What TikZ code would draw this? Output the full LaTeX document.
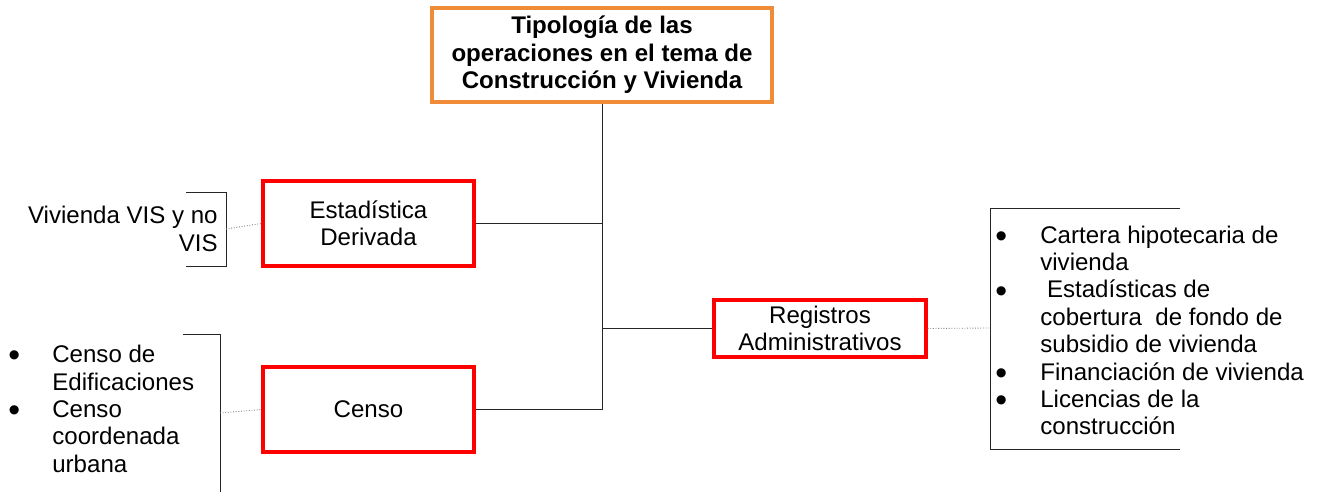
\documentclass[tikz,border=0pt]{standalone}
\usepackage{fontspec}
\setmainfont{Liberation Sans}
\usetikzlibrary{positioning}
\definecolor{boxred}{RGB}{255,0,0}
\definecolor{boxorange}{RGB}{240,140,55}
\newcommand{\itm}{\smash{\raisebox{-2.4pt}{\scalebox{1.4}{\textbullet}}}}
\begin{document}
\begin{tikzpicture}[%
            x=0.02cm,
            y=-0.02cm,
            font=\fontsize{13.7}{15.6}\selectfont,
            node distance=1cm,
            tema/.style={%
            	rectangle,
            	draw=boxorange,
            	line width=1.8pt,
            	minimum width=6.8cm,
            	minimum height=1.88cm,
            	align=center,
            	font=\fontsize{13.7}{15.6}\selectfont\bfseries
            },
            oper/.style={%
            	rectangle,
            	draw=boxred,
            	line width=1.9pt,
            	minimum width=4.22cm,
            	minimum height=1.7cm,
            	align=center
            },
            lista/.style={%
            	inner sep=0pt,
            	align=left
            },
            rama/.style={%
            	draw=black!85,
            	line width=0.5pt
            },
            enlace/.style={%
            	draw=gray,
            	densely dotted,
            	line width=0.5pt
            }
            ]
            \useasboundingbox (0,0) rectangle (1322,492);

            \node[tema] (tipo) at (602,55)        {Tipología de las\\operaciones en el tema de\\Construcción y Vivienda};
            \node[oper] (est) at (368.5,223.5)   {Estadística\\Derivada};
            \node[oper] (censo) at (368.5,409.5) {Censo};
            \node[oper, minimum width=4.24cm, minimum height=1.14cm] (reg) at (820,328.5) {Registros\\Administrativos};

            % ramas del arbol
            \path[rama] (est.east) -| (tipo.south)
            (censo.east) -| (tipo.south)
            (reg.west) -| (tipo.south);

            % corchetes
            \coordinate (visA) at (186,192);
            \coordinate (visB) at (226,266);
            \coordinate (visM) at (226,229);
            \coordinate (cenA) at (183,334);
            \coordinate (cenB) at (220,492);
            \coordinate (cenM) at (220,413);
            \coordinate (regA) at (1180,208);
            \coordinate (regB) at (990,449);
            \coordinate (regM) at (990,328);
            \path[rama] (visA) -| (visB) -- (visB -| visA);
            \path[rama] (cenA) -| (cenB);
            \path[rama] (regA) -| (regB) -- (regB -| regA);

            \path[enlace] (visM) -- (est.west)
            (cenM) -- (censo.west)
            (reg.east) -- (regM);

            % textos
            \node[lista, align=right, anchor=east] (vis) at (218,229) {Vivienda VIS y no\\VIS};
            \node[lista, anchor=west] (cenlist) at (8,412) {%
            	\begin{tabular}{@{}p{0.88cm}@{}l@{}}
            	\itm & Censo de\\
            	     & Edificaciones\\
            	\itm & Censo\\
            	     & coordenada\\
            	     & urbana
            	\end{tabular}};
            \node[lista, anchor=west] (reglist) at (995,333.5) {%
            	\begin{tabular}{@{}p{0.9cm}@{}l@{}}
            	\itm & Cartera hipotecaria de\\
            	     & vivienda\\
            	\itm & \ Estadísticas de\\
            	     & cobertura\ \ de fondo de\\
            	     & subsidio de vivienda\\
            	\itm & Financiación de vivienda\\
            	\itm & Licencias de la\\
            	     & construcción
            	\end{tabular}};
\end{tikzpicture}
\end{document}
